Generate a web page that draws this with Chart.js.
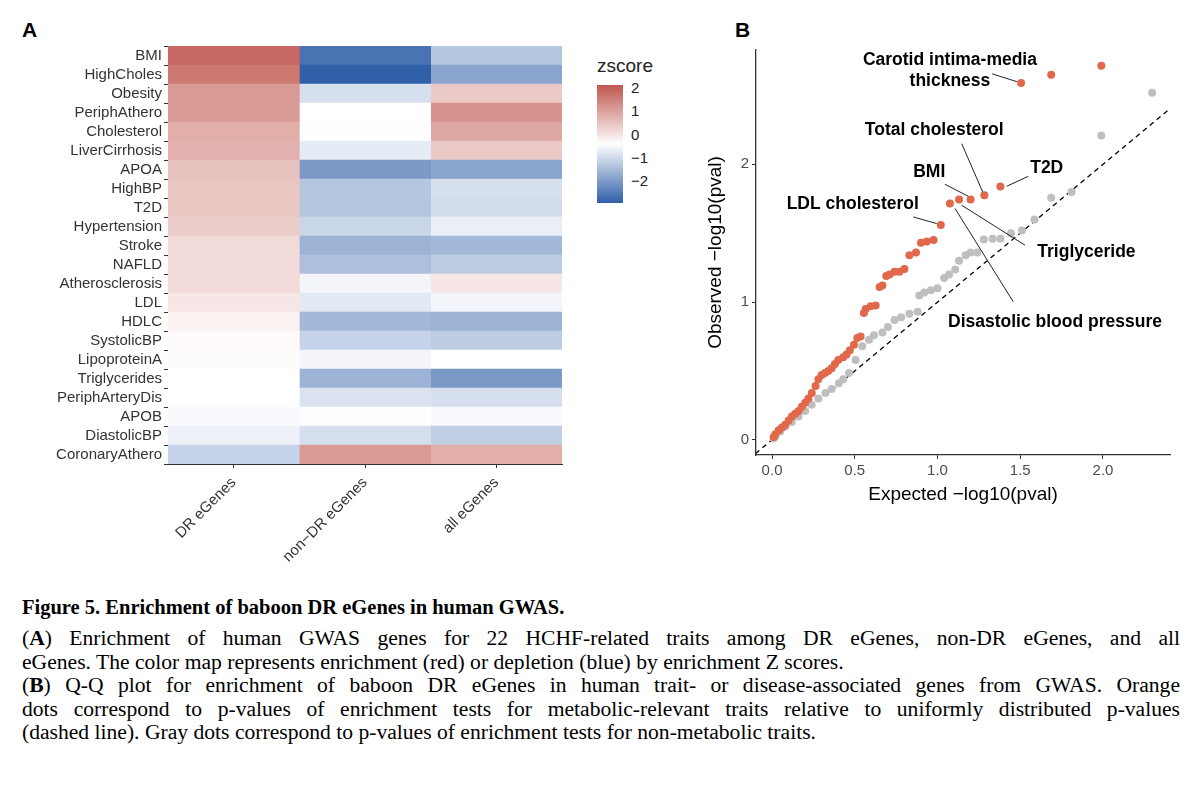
<!DOCTYPE html>
<html><head><meta charset="utf-8">
<script src="https://cdn.jsdelivr.net/npm/chart.js@4"></script>
<style>
body{margin:0;width:1200px;height:785px;background:#fff;position:relative;overflow:hidden;font-family:"Liberation Sans",Arial,sans-serif}
.panel{position:absolute;font-weight:bold;font-size:21px}
#c1w{position:absolute;left:0;top:0;width:570px;height:580px}
#c2w{position:absolute;left:700px;top:0;width:500px;height:510px}
#leg{position:absolute;left:597px;top:55px}
#leg .t{font-size:19px;color:#222;margin-bottom:6px}
#bar{position:absolute;left:0;top:30px;width:26px;height:118px;background:linear-gradient(to bottom,rgb(192,86,78),#fff 50%,rgb(48,96,168))}
.lt{position:absolute;left:34px;font-size:15px;color:#222;line-height:15px}
#cap{position:absolute;left:22px;top:596px;width:1158px;font-family:"Liberation Serif","Times New Roman",serif;font-size:21.6px;line-height:23.4px;color:#000}
#cap .h{display:block;margin-bottom:8px;font-size:20.5px}
#cap .j{text-align:justify;text-align-last:justify;white-space:nowrap}
#cap div{white-space:nowrap}
</style></head><body>
<div class="panel" style="left:22px;top:18px">A</div>
<div class="panel" style="left:735px;top:18px">B</div>
<div id="c1w"><canvas id="c1"></canvas></div>
<div id="c2w"><canvas id="c2"></canvas></div>
<div id="leg"><div class="t">zscore</div><div id="bar"></div>
<div class="lt" style="top:25px">2</div><div class="lt" style="top:48px">1</div><div class="lt" style="top:72px">0</div><div class="lt" style="top:95px">−1</div><div class="lt" style="top:118px">−2</div></div>
<div id="cap"><b class="h">Figure 5. Enrichment of baboon DR eGenes in human GWAS.</b>
<div class="j">(<b>A</b>) Enrichment of human GWAS genes for 22 HCHF-related traits among DR eGenes, non-DR eGenes, and all</div>
<div>eGenes. The color map represents enrichment (red) or depletion (blue) by enrichment Z scores.</div>
<div class="j">(<b>B</b>) Q-Q plot for enrichment of baboon DR eGenes in human trait- or disease-associated genes from GWAS. Orange</div>
<div class="j">dots correspond to p-values of enrichment tests for metabolic-relevant traits relative to uniformly distributed p-values</div>
<div>(dashed line). Gray dots correspond to p-values of enrichment tests for non-metabolic traits.</div></div>
<script>
const traits=["BMI","HighCholes","Obesity","PeriphAthero","Cholesterol","LiverCirrhosis","APOA","HighBP","T2D","Hypertension","Stroke","NAFLD","Atherosclerosis","LDL","HDLC","SystolicBP","LipoproteinA","Triglycerides","PeriphArteryDis","APOB","DiastolicBP","CoronaryAthero"];
const groups=["DR eGenes","non\u2212DR eGenes","all eGenes"];
const zDR=[2.2,2.0,1.5,1.5,1.2,1.15,0.9,0.85,0.85,0.75,0.55,0.55,0.55,0.35,0.2,0.08,0.05,0,0,-0.1,-0.2,-0.7];
const zNonDR=[-2.2,-2.5,-0.5,0,0.02,-0.3,-1.6,-0.9,-0.9,-0.65,-1.2,-1.0,-0.15,-0.35,-1.1,-0.7,-0.15,-1.2,-0.45,0.03,-0.5,1.5];
const zAll=[-0.9,-1.4,0.8,1.6,1.3,0.8,-1.4,-0.5,-0.55,-0.25,-1.1,-0.8,0.35,-0.15,-1.2,-0.8,0,-1.6,-0.5,-0.1,-0.75,1.2];
const metaX=[1.99,1.687,1.505,1.38,1.283,1.20,1.13,1.075,1.02,0.976,0.935,0.90,0.87,0.83,0.80,0.77,0.74,0.71,0.69,0.667,0.65,0.626,0.596,0.566,0.555,0.535,0.515,0.495,0.47,0.45,0.43,0.40,0.38,0.36,0.34,0.32,0.30,0.28,0.263,0.24,0.22,0.20,0.18,0.16,0.14,0.12,0.10,0.08,0.06,0.04,0.02,0.01];
const metaY=[2.715,2.65,2.59,1.84,1.775,1.745,1.745,1.716,1.56,1.45,1.44,1.43,1.36,1.34,1.24,1.22,1.22,1.20,1.19,1.12,1.11,0.976,0.97,0.95,0.92,0.75,0.74,0.69,0.65,0.62,0.60,0.58,0.55,0.52,0.50,0.485,0.47,0.44,0.39,0.34,0.30,0.27,0.24,0.21,0.19,0.17,0.14,0.11,0.09,0.07,0.04,0.02];
const otherX=[2.297,1.99,1.81,1.687,1.586,1.51,1.444,1.38,1.333,1.28,1.24,1.2,1.17,1.13,1.107,1.07,1.04,1.0,0.96,0.92,0.89,0.88,0.83,0.78,0.74,0.70,0.667,0.616,0.586,0.545,0.505,0.465,0.43,0.404,0.36,0.323,0.28,0.24,0.20,0.16,0.12,0.08,0.05,0.02,0.01];
const otherY=[2.52,2.21,1.80,1.757,1.60,1.52,1.50,1.46,1.46,1.455,1.36,1.36,1.34,1.30,1.236,1.2,1.175,1.10,1.086,1.07,1.047,0.93,0.916,0.89,0.87,0.82,0.78,0.76,0.727,0.68,0.58,0.485,0.44,0.41,0.37,0.34,0.30,0.255,0.21,0.17,0.13,0.097,0.06,0.024,0.01];
const notes=[
 {t:["Carotid intima-media","thickness"],x:1.075,y:2.68,lx1:1.33,ly1:2.657,lx2:1.48,ly2:2.60},
 {t:["Total cholesterol"],x:0.98,y:2.246,lx1:1.146,ly1:2.15,lx2:1.273,ly2:1.80},
 {t:["BMI"],x:0.95,y:1.944,lx1:1.045,ly1:1.855,lx2:1.186,ly2:1.768},
 {t:["T2D"],x:1.66,y:1.969,lx1:1.549,ly1:1.913,lx2:1.418,ly2:1.841},
 {t:["LDL cholesterol"],x:0.488,y:1.708,lx1:0.854,ly1:1.618,lx2:0.995,ly2:1.57},
 {t:["Triglyceride"],x:1.90,y:1.36,lx1:1.529,ly1:1.413,lx2:1.146,ly2:1.703},
 {t:["Disastolic blood pressure"],x:1.71,y:0.857,lx1:1.458,ly1:1.002,lx2:1.106,ly2:1.679}];

function zcol(z){const t=Math.max(-1,Math.min(1,z/2.5));
 const hi=[192,86,78],lo=[48,96,168];const e=t>0?hi:lo,a=Math.abs(t);
 return `rgb(${Math.round(255+(e[0]-255)*a)},${Math.round(255+(e[1]-255)*a)},${Math.round(255+(e[2]-255)*a)})`;}
const cols=[zDR,zNonDR,zAll];
const ds=cols.map((arr,j)=>({data:traits.map(()=>[j,j+1]),backgroundColor:arr.map(zcol),borderWidth:0,barPercentage:1,categoryPercentage:1,grouped:false}));
const hf={size:15,family:'Liberation Sans'};
new Chart(document.getElementById('c1'),{type:'bar',data:{labels:traits,datasets:ds},
 options:{indexAxis:'y',responsive:true,maintainAspectRatio:false,animation:false,
 layout:{padding:{top:46,right:8}},plugins:{legend:{display:false},tooltip:{enabled:false}},
 scales:{y:{grid:{drawOnChartArea:false,color:'#333',tickLength:4},border:{display:false},ticks:{autoSkip:false,color:'#333',font:hf,padding:2},afterFit(s){s.width=168;}},
 x:{type:'linear',min:0,max:3,grid:{drawOnChartArea:false,color:'#333',tickLength:4},border:{color:'#333'},
  afterBuildTicks(s){s.ticks=[0.5,1.5,2.5].map(v=>({value:v}));},
  ticks:{maxRotation:45,minRotation:45,color:'#333',font:hf,padding:6,callback:(v)=>groups[Math.floor(v)]},
  afterFit(s){s.height=116;}}}}});

const annot={id:'annot',afterDatasetsDraw(c){const x=c.scales.x,y=c.scales.y,g=c.ctx;g.save();
 g.strokeStyle='#222';g.lineWidth=1;g.fillStyle='#000';g.font='bold 17.5px "Liberation Sans",Arial';g.textAlign='center';g.textBaseline='middle';
 notes.forEach(n=>{g.beginPath();g.moveTo(x.getPixelForValue(n.lx1),y.getPixelForValue(n.ly1));g.lineTo(x.getPixelForValue(n.lx2),y.getPixelForValue(n.ly2));g.stroke();
  const px=x.getPixelForValue(n.x),py=y.getPixelForValue(n.y);n.t.forEach((s,i)=>g.fillText(s,px,py+i*21-(n.t.length-1)*10.5));});
 g.restore();}};
const tickFont={size:15,family:'Liberation Sans'};
new Chart(document.getElementById('c2'),{type:'scatter',
 data:{datasets:[
  {data:[{x:-0.1,y:-0.1},{x:2.4,y:2.4}],type:'line',borderColor:'#000',borderWidth:1.3,borderDash:[5,4],pointRadius:0,order:3},
  {data:otherX.map((v,i)=>({x:v,y:otherY[i]})),backgroundColor:'#bfbfbf',borderWidth:0,pointRadius:4,order:2},
  {data:metaX.map((v,i)=>({x:v,y:metaY[i]})),backgroundColor:'#e2684b',borderWidth:0,pointRadius:4,order:1}]},
 plugins:[annot],
 options:{responsive:true,maintainAspectRatio:false,animation:false,layout:{padding:{top:50,right:30}},
  plugins:{legend:{display:false},tooltip:{enabled:false}},
  scales:{x:{type:'linear',min:-0.097,max:2.405,grid:{drawOnChartArea:false,color:'#333',tickLength:4},border:{color:'#333',width:1.3},
   afterBuildTicks(s){s.ticks=[0,0.5,1,1.5,2].map(v=>({value:v}));},ticks:{color:'#4d4d4d',font:tickFont,callback:v=>v.toFixed(1)},
   title:{display:true,text:'Expected \u2212log10(pval)',color:'#000',font:{size:19,family:'Liberation Sans'},padding:{top:0}},afterFit(s){s.height=55;}},
  y:{type:'linear',min:-0.11,max:2.83,grid:{drawOnChartArea:false,color:'#333',tickLength:4},border:{color:'#333',width:1.3},
   afterBuildTicks(s){s.ticks=[0,1,2].map(v=>({value:v}));},ticks:{color:'#4d4d4d',font:tickFont},
   title:{display:true,text:'Observed \u2212log10(pval)',color:'#000',font:{size:19,family:'Liberation Sans'}},afterFit(s){s.width=56;}}}}});
</script></body></html>
